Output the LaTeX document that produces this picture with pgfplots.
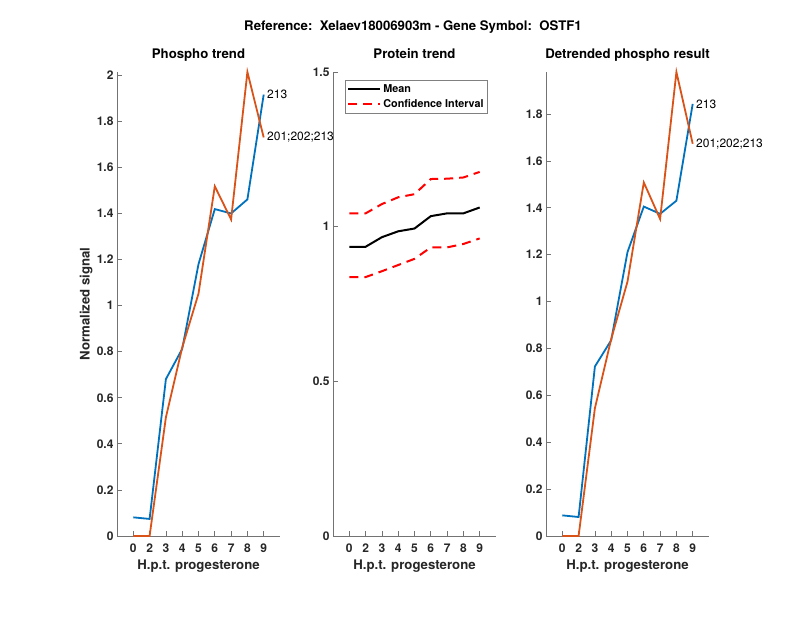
\documentclass[border=0pt]{standalone}
\usepackage{fontspec}
\setmainfont{TeX Gyre Heros}
\usepackage{pgfplots}
\usepackage{pgfplotstable}
\pgfplotsset{compat=1.18}
\definecolor{mblue}{rgb}{0,0.447,0.741}
\definecolor{morange}{rgb}{0.85,0.325,0.098}
\definecolor{axgray}{rgb}{0.15,0.15,0.15}

\pgfplotstableread{
x blue orange
1 0.081 0
2 0.074 0
3 0.681 0.515
4 0.812 0.818
5 1.180 1.052
6 1.419 1.518
7 1.400 1.374
8 1.461 2.014
9 1.916 1.730
}\phospho

\pgfplotstableread{
x mean upper lower
1 0.935 1.043 0.837
2 0.935 1.043 0.837
3 0.966 1.073 0.856
4 0.985 1.095 0.876
5 0.994 1.105 0.896
6 1.034 1.154 0.933
7 1.043 1.155 0.933
8 1.043 1.159 0.944
9 1.062 1.177 0.962
}\protein

\pgfplotstableread{
x blue orange
1 0.088 0
2 0.081 0
3 0.723 0.545
4 0.835 0.840
5 1.211 1.085
6 1.405 1.508
7 1.374 1.352
8 1.430 1.979
9 1.843 1.673
}\detrended

\pgfplotsset{
  mstyle/.style={
    scale only axis, width=163pt, height=464pt, anchor=south west,
    axis x line*=bottom, axis y line*=left,
    axis line style={draw=black!55, line width=0.7pt, -},
    every outer x axis line/.append style={-},
    every outer y axis line/.append style={-},
    tick style={draw=black!55, line width=0.7pt},
    major tick length=4.6pt,
    tick align=inside,
    xmin=0, xmax=10,
    xtick={1,...,9}, xticklabels={0,2,3,4,5,6,7,8,9},
    /pgf/number format/assume math mode=true,
    /pgf/number format/fixed,
    tick label style={font=\fontsize{12}{14}\selectfont\bfseries, text=axgray},
    xticklabel style={anchor=base, yshift=-16.3pt},
    title style={font=\fontsize{13.2}{15}\selectfont\bfseries, at={(axis description cs:0.5,1)}, anchor=base, yshift=7pt},
    xlabel style={font=\fontsize{13.2}{15}\selectfont\bfseries, text=axgray, at={(axis description cs:0.5,0)}, anchor=base, yshift=-34pt},
    xlabel={H.p.t. progesterone},
    clip=false,
  },
}
\tikzset{lbl/.style={anchor=west, inner sep=0pt, font=\fontsize{12}{14}\selectfont, text=black}}

\begin{document}
\begin{tikzpicture}[x=1pt,y=1pt]
\path[use as bounding box] (0,0) rectangle (800,618);

% Phospho trend
\begin{axis}[mstyle, at={(117pt,82pt)},
  ymin=0, ymax=2.014, ytick={0,0.2,...,2.01},
  title={Phospho trend},
  ylabel={Normalized signal},
  ylabel style={font=\fontsize{13.2}{15}\selectfont\bfseries, text=axgray, at={(axis description cs:-0.19,0.5)}, anchor=center},
]
\addplot[mblue, line width=1.8pt] table[x=x, y=blue] {\phospho};
\addplot[morange, line width=1.8pt] table[x=x, y=orange] {\phospho};
\node[lbl] at (axis cs:9.2,1.916) {213};
\node[lbl] at (axis cs:9.2,1.730) {201;202;213};
\end{axis}

% Protein trend
\begin{axis}[mstyle, at={(333pt,82pt)},
  axis background/.style={fill=white},
  ymin=0, ymax=1.5, ytick={0,0.5,1,1.5},
  title={Protein trend},
  legend style={at={(axis description cs:0.074,0.983)}, anchor=north west,
    draw=black!50, line width=0.6pt, fill=white,
    font=\fontsize{10.8}{13}\selectfont\bfseries,
    inner xsep=2pt, inner ysep=2.5pt, row sep=1.5pt},
  legend cell align=left,
  legend image code/.code={\draw[#1] (0pt,0pt) -- (32pt,0pt);},
]
\addplot[black, line width=2pt] table[x=x, y=mean] {\protein};
\addlegendentry{Mean}
\addplot[red, line width=2pt, dash pattern=on 9pt off 6pt] table[x=x, y=upper] {\protein};
\addlegendentry{Confidence Interval}
\addplot[red, line width=2pt, dash pattern=on 9pt off 6pt, forget plot] table[x=x, y=lower] {\protein};
\end{axis}

% Detrended phospho result
\begin{axis}[mstyle, at={(546pt,82pt)},
  ymin=0, ymax=1.979, ytick={0,0.2,...,1.81},
  title={Detrended phospho result},
]
\addplot[mblue, line width=1.8pt] table[x=x, y=blue] {\detrended};
\addplot[morange, line width=1.8pt] table[x=x, y=orange] {\detrended};
\node[lbl] at (axis cs:9.2,1.843) {213};
\node[lbl] at (axis cs:9.2,1.673) {201;202;213};
\end{axis}

\node[anchor=base, font=\fontsize{13.2}{15}\selectfont\bfseries, text=black] at (413,587.3) {Reference:\ \ Xelaev18006903m - Gene Symbol:\ \ OSTF1};
\end{tikzpicture}
\end{document}
